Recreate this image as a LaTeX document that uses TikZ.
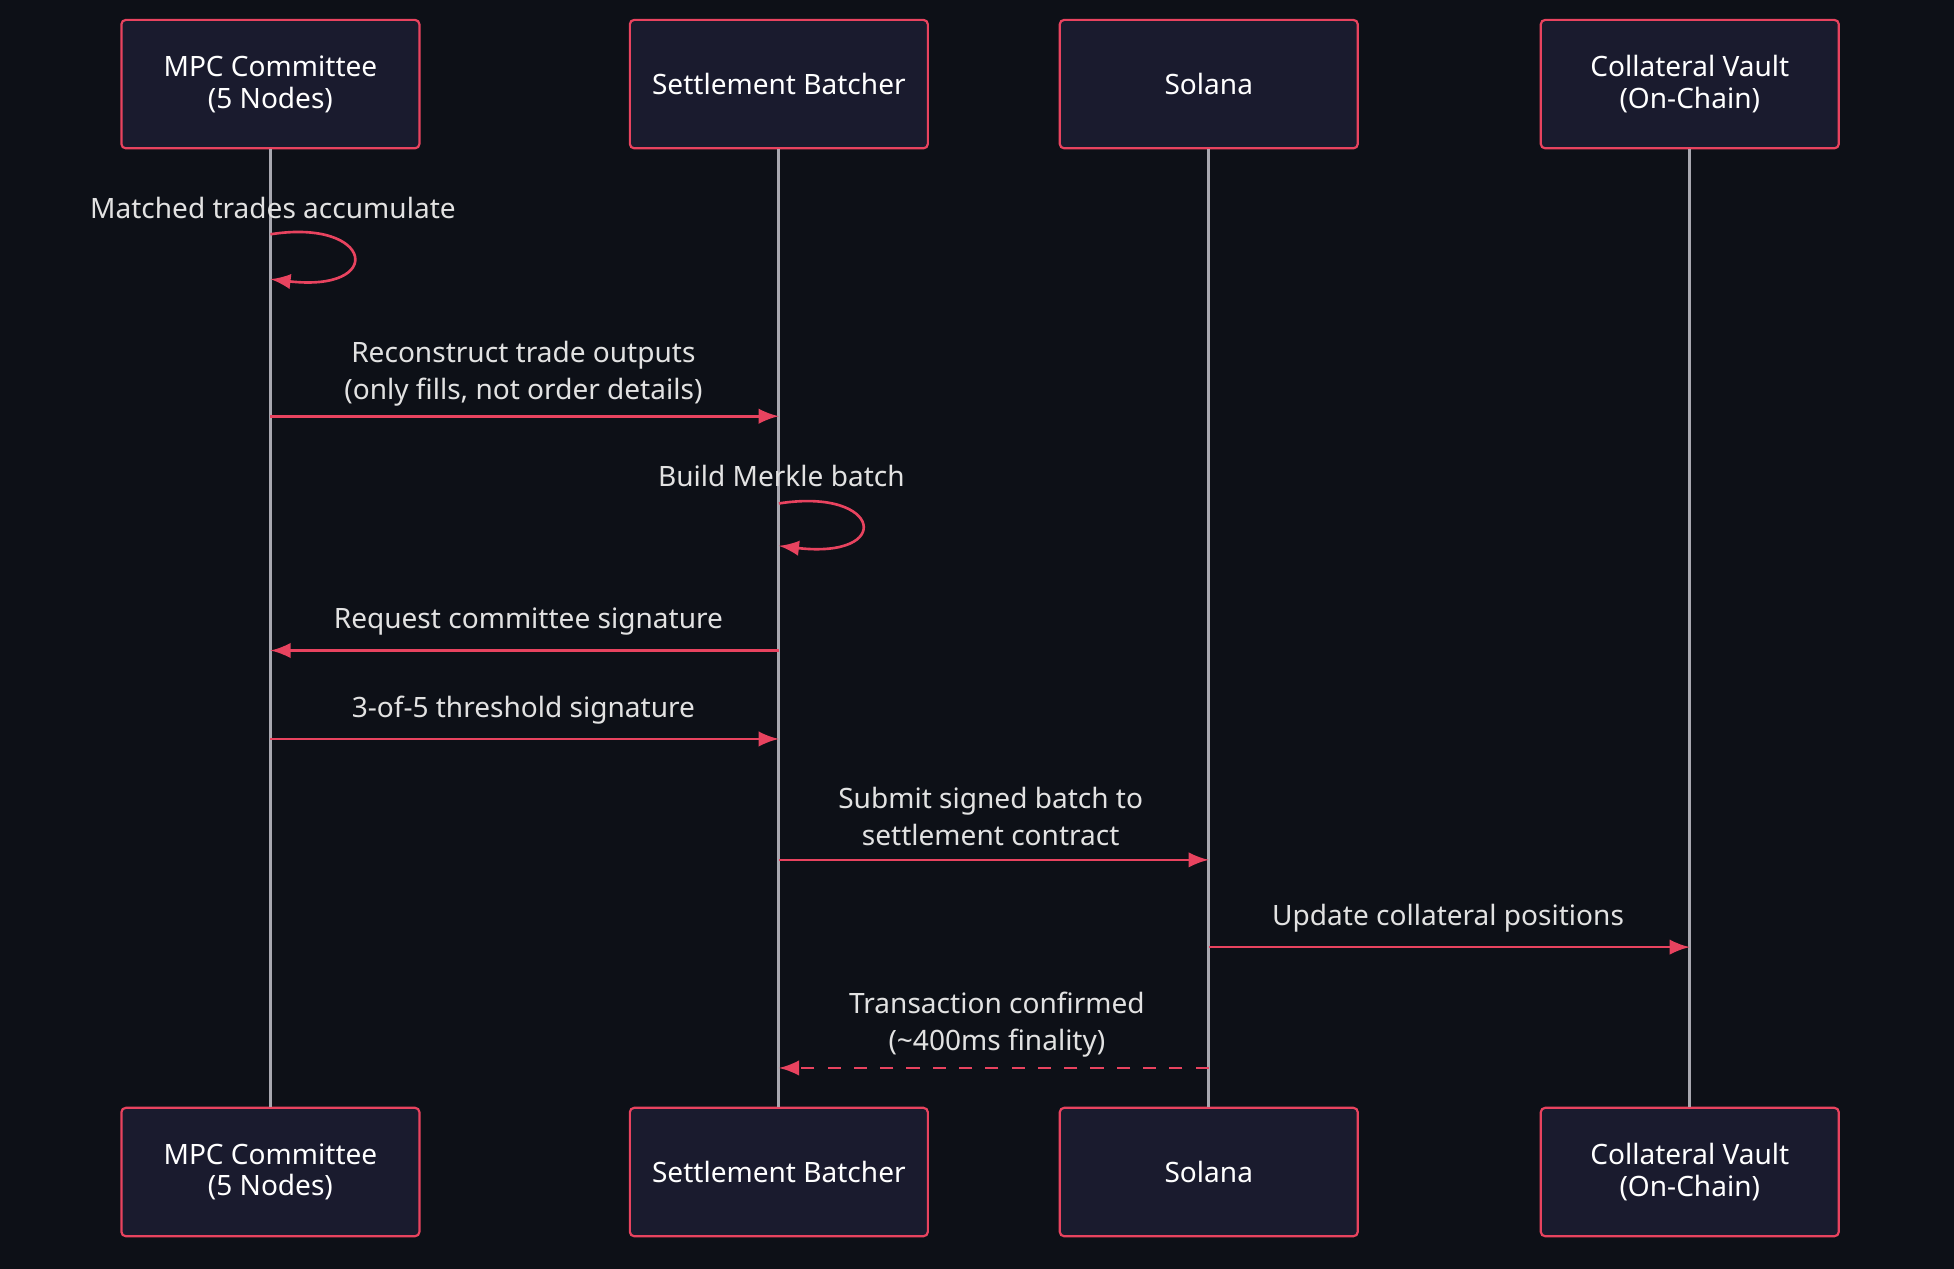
\documentclass[tikz,border=0pt]{standalone}
\usepackage{fontspec}
\setmainfont{Noto Sans}
\usetikzlibrary{shapes,arrows,positioning}
\definecolor{bg}{HTML}{0D1017}
\definecolor{boxfill}{HTML}{1A1B2E}
\definecolor{accent}{HTML}{E8435F}
\definecolor{life}{HTML}{A8A8B0}
\definecolor{txt}{HTML}{E2E2E2}
\begin{document}
\begin{tikzpicture}[x=0.01cm,y=-0.01cm]
		\tikzstyle {actor} = [draw=accent, fill=boxfill, rounded corners=1pt, minimum width=2.39cm, minimum height=1.03cm, text=white, align=center, font=\fontsize{6.4}{7.2}\selectfont, line width=0.5pt]
		\tikzstyle {lifeline} = [life, line width=0.7pt]
		\tikzstyle {msg} = [accent, line width=0.6pt, -latex]
		\tikzstyle {label} = [text=txt, align=center, font=\fontsize{6.4}{8.4}\selectfont]

		\fill[bg] (0,0) rectangle (1568,1018);

		\node[actor] (mpc) at (217,67.5) {MPC Committee\\(5 Nodes)};
		\node[actor] (batcher) at (625,67.5) {Settlement Batcher};
		\node[actor] (sol) at (970,67.5) {Solana};
		\node[actor] (vault) at (1356,67.5) {Collateral Vault\\(On-Chain)};
		\node[actor] (mpcB) at (217,940.5) {MPC Committee\\(5 Nodes)};
		\node[actor] (batcherB) at (625,940.5) {Settlement Batcher};
		\node[actor] (solB) at (970,940.5) {Solana};
		\node[actor] (vaultB) at (1356,940.5) {Collateral Vault\\(On-Chain)};

		\draw[lifeline] (mpc) -- (mpcB);
		\draw[lifeline] (batcher) -- (batcherB);
		\draw[lifeline] (sol) -- (solB);
		\draw[lifeline] (vault) -- (vaultB);

		% self message on MPC
		\node[label] (l1) at (219,167) {Matched trades accumulate};
		\coordinate (a1) at (217,188);
		\coordinate (a2) at (217,224);
		\draw[msg] (a1) .. controls (300,175) and (310,235) .. (a2);

		\coordinate (b1) at (217,334); \coordinate (b2) at (625,334);
		\node[label] (l2) at (420,300) {Reconstruct trade outputs\\(only fills, not order details)};
		\draw[msg] (b1) -- (b2);

		\node[label] (l3) at (627,382) {Build Merkle batch};
		\coordinate (c1) at (625,404);
		\coordinate (c2) at (625,438);
		\draw[msg] (c1) .. controls (708,391) and (718,449) .. (c2);

		\coordinate (d1) at (625,522); \coordinate (d2) at (217,522);
		\node[label] (l4) at (424,499) {Request committee signature};
		\draw[msg] (d1) -- (d2);

		\coordinate (e1) at (217,593); \coordinate (e2) at (625,593);
		\node[label] (l5) at (420,570) {3-of-5 threshold signature};
		\draw[msg] (e1) -- (e2);

		\coordinate (f1) at (625,690); \coordinate (f2) at (970,690);
		\node[label] (l6) at (795,655) {Submit signed batch to\\settlement contract};
		\draw[msg] (f1) -- (f2);

		\coordinate (g1) at (970,760); \coordinate (g2) at (1356,760);
		\node[label] (l7) at (1162,737) {Update collateral positions};
		\draw[msg] (g1) -- (g2);

		\coordinate (h1) at (970,857); \coordinate (h2) at (625,857);
		\node[label] (l8) at (800,822) {Transaction confirmed\\(\textasciitilde400ms finality)};
		\draw[msg, dashed] (h1) -- (h2);
	\end{tikzpicture}
\end{document}
